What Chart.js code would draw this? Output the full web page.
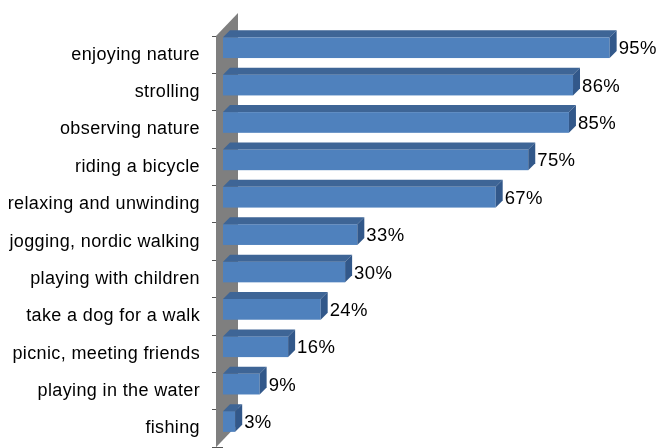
<!DOCTYPE html>
<html>
<head>
<meta charset="utf-8">
<script src="https://cdn.jsdelivr.net/npm/chart.js@4.4.1/dist/chart.umd.min.js"></script>
<style>
  html, body { margin: 0; padding: 0; background: #fff; overflow: hidden; }
  #wrap { width: 658px; height: 448px; overflow: hidden; }
</style>
</head>
<body>
<div id="wrap"><canvas id="chart" width="658" height="470"></canvas></div>
<script>
// leisure activities, share of answers in %
const activities = [
  'enjoying nature',
  'strolling',
  'observing nature',
  'riding a bicycle',
  'relaxing and unwinding',
  'jogging, nordic walking',
  'playing with children',
  'take a dog for a walk',
  'picnic, meeting friends',
  'playing in the water',
  'fishing'
];
const shares = [95, 86, 85, 75, 67, 33, 30, 24, 16, 9, 3];
const axisRange = [0, 100];

const FONT = '"Liberation Sans", Arial, sans-serif';
const DEPTH = 7;   // 3d offset of the bar top / side faces
const LIFT = 7;    // bars sit a little above the band centre

// slightly looser text, like the GDI rendering of the office chart
const spacingPlugin = {
  id: 'spacing',
  beforeDraw(chart) { chart.ctx.letterSpacing = '0.37px'; },
  afterDraw(chart) { chart.ctx.letterSpacing = '0px'; }
};

// grey side wall behind the category axis
const wallPlugin = {
  id: 'wall',
  beforeDatasetsDraw(chart) {
    const { ctx, chartArea } = chart;
    const x = chartArea.left - 7;
    ctx.save();
    ctx.fillStyle = '#7f7f7f';
    ctx.beginPath();
    ctx.moveTo(x, chartArea.top);
    ctx.lineTo(x + 22, chartArea.top - 23);
    ctx.lineTo(x + 22, chartArea.bottom - 23);
    ctx.lineTo(x, chartArea.bottom);
    ctx.closePath();
    ctx.fill();
    ctx.restore();
  }
};

// draws each bar as a box (front, top, right side) plus its value label
const boxPlugin = {
  id: 'boxes',
  afterDatasetsDraw(chart) {
    const { ctx } = chart;
    const meta = chart.getDatasetMeta(0);
    ctx.save();
    meta.data.forEach((el, i) => {
      const left = el.base;
      const right = el.x;
      const top = el.y - el.height / 2 - LIFT;
      const bottom = top + el.height;

      ctx.fillStyle = '#4f81bd';
      ctx.fillRect(left, top, right - left, bottom - top);

      ctx.fillStyle = '#3e6596';
      ctx.beginPath();
      ctx.moveTo(left, top);
      ctx.lineTo(left + DEPTH, top - DEPTH);
      ctx.lineTo(right + DEPTH, top - DEPTH);
      ctx.lineTo(right, top);
      ctx.closePath();
      ctx.fill();

      ctx.fillStyle = '#32588a';
      ctx.beginPath();
      ctx.moveTo(right, top);
      ctx.lineTo(right + DEPTH, top - DEPTH);
      ctx.lineTo(right + DEPTH, bottom - DEPTH);
      ctx.lineTo(right, bottom);
      ctx.closePath();
      ctx.fill();

      ctx.fillStyle = '#000';
      ctx.font = '18.5px ' + FONT;
      ctx.textAlign = 'left';
      ctx.textBaseline = 'middle';
      ctx.fillText(shares[i] + '%', right + DEPTH + 2, (top + bottom) / 2 + 1.5);
    });
    ctx.restore();
  }
};

new Chart(document.getElementById('chart'), {
  type: 'bar',
  data: {
    labels: activities,
    datasets: [{
      data: shares,
      backgroundColor: 'rgba(0,0,0,0)',
      borderWidth: 0,
      categoryPercentage: 1,
      barPercentage: 0.554
    }]
  },
  options: {
    indexAxis: 'y',
    responsive: false,
    animation: false,
    layout: { padding: { left: 0, top: 36, right: 28, bottom: 17.1 } },
    plugins: {
      legend: { display: false },
      tooltip: { enabled: false }
    },
    scales: {
      x: { type: 'linear', min: axisRange[0], max: axisRange[1], display: false },
      y: {
        grid: { offset: true, drawOnChartArea: false, tickLength: 11, color: '#555', lineWidth: 1 },
        border: { display: false },
        ticks: { padding: 12, color: '#000', autoSkip: false, font: { family: FONT, size: 18 } },
        afterFit(scale) { scale.width = 223; }
      }
    }
  },
  plugins: [spacingPlugin, wallPlugin, boxPlugin]
});
</script>
</body>
</html>
